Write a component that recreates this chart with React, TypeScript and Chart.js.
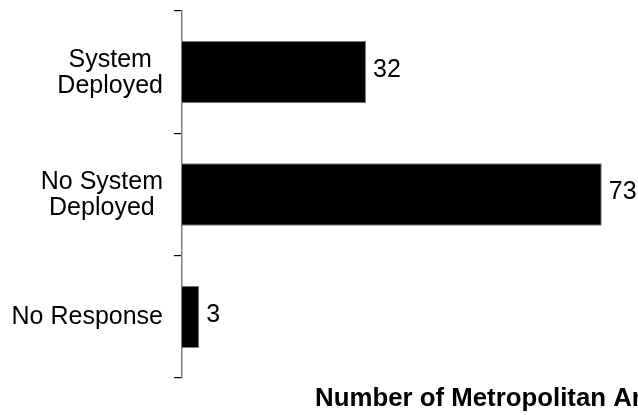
import { useEffect, useRef } from 'react';
import { Chart, registerables } from 'chart.js';

Chart.register(...registerables);

const categories: string[][] = [['System', 'Deployed'], ['No System', 'Deployed'], ['No Response']];
const values: number[] = [32, 73, 3];
const axisTitle = 'Number of Metropolitan Areas';
const xMin = 0;
const xMax = 110.6;

const FONT = '"Liberation Sans", Arial, Helvetica, sans-serif';

const catLabelPlugin = {
  id: 'catLabels',
  afterDraw(chart: any) {
    const ctx = chart.ctx;
    const y = chart.scales.y;
    ctx.save();
    ctx.font = `25px ${FONT}`;
    ctx.fillStyle = '#000';
    ctx.textAlign = 'center';
    ctx.textBaseline = 'middle';
    const lh = 26;
    (chart.data.labels as any[]).forEach((lab, i) => {
      const lines: string[] = Array.isArray(lab) ? lab : [lab];
      const w = Math.max(...lines.map((l) => ctx.measureText(l).width));
      const cx = y.right - 19 - w / 2;
      const cy = y.getPixelForTick(i) + 0.5;
      lines.forEach((l, j) => ctx.fillText(l, cx, cy + (j - (lines.length - 1) / 2) * lh));
    });
    ctx.restore();
  },
};

const valueLabelPlugin = {
  id: 'valueLabels',
  afterDatasetsDraw(chart: any) {
    const ctx = chart.ctx;
    const meta = chart.getDatasetMeta(0);
    const data = chart.data.datasets[0].data as number[];
    ctx.save();
    ctx.font = `25px ${FONT}`;
    ctx.fillStyle = '#000';
    ctx.textAlign = 'left';
    ctx.textBaseline = 'middle';
    meta.data.forEach((el: any, i: number) => {
      ctx.fillText(String(data[i]), el.x + 7, el.y - 2);
    });
    ctx.restore();
  },
};

export default function App() {
  const ref = useRef<HTMLCanvasElement | null>(null);
  useEffect(() => {
    if (!ref.current) return;
    const chart = new Chart(ref.current, {
      type: 'bar',
      data: {
        labels: categories,
        datasets: [
          {
            data: values,
            backgroundColor: '#000',
            borderColor: '#7f7f7f',
            borderWidth: 1,
            categoryPercentage: 1,
            barPercentage: 0.51,
          },
        ],
      },
      options: {
        indexAxis: 'y',
        responsive: false,
        animation: false,
        layout: { padding: { top: 11, left: 0, right: 1, bottom: 0 } },
        plugins: { legend: { display: false }, tooltip: { enabled: false } },
        scales: {
          x: {
            min: xMin,
            max: xMax,
            grid: { display: false, drawTicks: false },
            border: { display: false },
            ticks: { display: false },
            title: {
              display: true,
              text: axisTitle,
              color: '#000',
              font: { family: FONT, size: 25.8, weight: 'bold' },
              padding: { top: 5.5, bottom: 0.5 },
            },
          },
          y: {
            grid: { drawOnChartArea: false, tickLength: 8, tickColor: '#000', offset: true, lineWidth: 1.2 },
            border: { display: true, color: '#808080', width: 1.5 },
            ticks: { display: false },
            afterFit: (s: any) => {
              s.width = 182;
            },
          },
        },
      },
      plugins: [catLabelPlugin, valueLabelPlugin],
    });
    return () => chart.destroy();
  }, []);
  return (
    <div style={{ position: 'fixed', left: 0, top: 0, width: 638, height: 415, overflow: 'hidden', background: '#fff' }}>
      <canvas ref={ref} width={819} height={415} style={{ display: 'block' }} />
    </div>
  );
}
